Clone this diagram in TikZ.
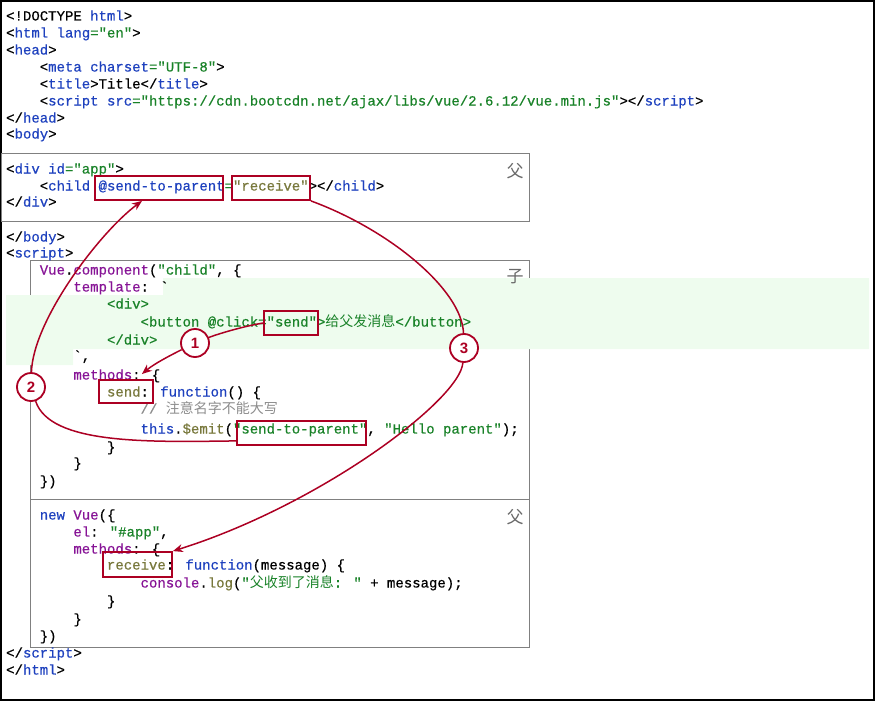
\documentclass[tikz,border=0pt]{standalone}
\usepackage{fontspec}
\newfontfamily\codefont{Liberation Mono}[FakeBold=0.5]
\newfontfamily\cjk{Noto Sans CJK SC}
\newfontfamily\numfont{Liberation Sans}
\usetikzlibrary{arrows.meta}

\definecolor{tagblue}{RGB}{30,65,190}
\definecolor{strgreen}{RGB}{25,130,40}
\definecolor{proppurple}{RGB}{135,20,150}
\definecolor{funolive}{RGB}{120,120,60}
\definecolor{cmtgray}{RGB}{140,140,140}
\definecolor{framegray}{RGB}{128,128,128}
\definecolor{labelgray}{RGB}{105,105,105}
\definecolor{tplgreen}{RGB}{238,252,238}
\definecolor{annored}{RGB}{172,0,35}

\newcommand\ctag[1]{\textcolor{tagblue}{#1}}
\newcommand\cstr[1]{\textcolor{strgreen}{#1}}
\newcommand\cprop[1]{\textcolor{proppurple}{#1}}
\newcommand\cfun[1]{\textcolor{funolive}{#1}}
\newcommand\ccmt[1]{\textcolor{cmtgray}{#1}}

\tikzset{
  code/.style={anchor=base west, inner sep=0pt, font=\codefont\fontsize{14}{17}\selectfont},
  part/.style={draw=framegray, line width=0.9pt},
  side/.style={text=labelgray, inner sep=0pt, font=\cjk\fontsize{17}{17}\selectfont},
  hlbox/.style={draw=annored, line width=1.8pt, inner sep=0pt},
  num/.style={circle, draw=annored, fill=white, line width=1.8pt, minimum size=28pt,
    inner sep=0pt, text=annored, font=\numfont\bfseries\fontsize{15}{15}\selectfont},
  flow/.style={draw=annored, line width=1.5pt, -{Stealth[length=10pt,width=8pt]}}
}

\begin{document}
\begin{tikzpicture}[x=1pt, y=-1pt]
    \useasboundingbox (0,0) rectangle (875,701);
    \draw[line width=1.2pt] (1,1) rectangle (874,700);

    % parts of the page
    \draw[part] (1,153) rectangle (529,221);
    \draw[part] (30,260) rectangle (529,499);
    \draw[part] (30,499) rectangle (529,647);
    \fill[tplgreen] (163,278) -- (869,278) -- (869,349) -- (73,349) -- (73,365)
        -- (6,365) -- (6,295) -- (163,295) -- cycle;

    \node[side] (fa1) at (515,171) {父};
    \node[side] (zi)  at (515,277) {子};
    \node[side] (fa2) at (515,517) {父};

    % html
    \node[code] (ln1)  at (6,20.5)    {<!DOCTYPE \ctag{html}>};
    \node[code] (ln2)  at (6,37.5)    {<\ctag{html} \ctag{lang}\cstr{="en"}>};
    \node[code] (ln3)  at (6,54.5)    {<\ctag{head}>};
    \node[code] (ln4)  at (39.6,71.5) {<\ctag{meta} \ctag{charset}\cstr{="UTF-8"}>};
    \node[code] (ln5)  at (39.6,88.5) {<\ctag{title}>Title</\ctag{title}>};
    \node[code] (ln6)  at (39.6,105.5) {<\ctag{script} \ctag{src}\cstr{="https://cdn.bootcdn.net/ajax/libs/vue/2.6.12/vue.min.js"}></\ctag{script}>};
    \node[code] (ln7)  at (6,122.5)   {</\ctag{head}>};
    \node[code] (ln8)  at (6,138.5)   {<\ctag{body}>};
    \node[code] (ln9)  at (6,173.5)   {<\ctag{div} \ctag{id}\cstr{="app"}>};
    \node[code] (ln10) at (39.6,190.5) {<\ctag{child} \ctag{@send-to-parent}\cstr{=}\cfun{"receive"}></\ctag{child}>};
    \node[code] (ln11) at (6,206.5)   {</\ctag{div}>};
    \node[code] (ln12) at (6,241.5)   {</\ctag{body}>};
    \node[code] (ln13) at (6,257.5)   {<\ctag{script}>};

    % child component
    \node[code] (ln14) at (39.6,274.5) {\cprop{Vue}.\cprop{component}(\cstr{"child"}, \{};
    \node[code] (ln15) at (73.2,291.5) {\cprop{template}: \textasciigrave};
    \node[code] (ln16) at (106.8,308.5) {\cstr{<div>}};
    \node[code] (ln17) at (140.4,326.5) {\cstr{<button @click="send">{\cjk 给父发消息}</button>}};
    \node[code] (ln18) at (106.8,344.5) {\cstr{</div>}};
    \node[code] (ln19) at (73.2,360.5) {\textasciigrave,};
    \node[code] (ln20) at (73.2,379.5) {\cprop{methods}: \{};
    \node[code] (ln21) at (106.8,396.5) {\cfun{send}: \ctag{function}() \{};
    \node[code] (ln22) at (140.4,413.5) {\ccmt{// {\cjk 注意名字不能大写}}};
    \node[code] (ln23) at (140.4,433.5) {\ctag{this}.\cfun{\$emit}(\cstr{"send-to-parent"}, \cstr{"Hello parent"});};
    \node[code] (ln24) at (106.8,451.5) {\}};
    \node[code] (ln25) at (73.2,467.5) {\}};
    \node[code] (ln26) at (39.6,485.5) {\})};

    % root instance
    \node[code] (ln27) at (39.6,519.5) {\ctag{new} \cprop{Vue}(\{};
    \node[code] (ln28) at (73.2,536.5) {\cprop{el}: \cstr{"\#app"},};
    \node[code] (ln29) at (73.2,553.5) {\cprop{methods}: \{};
    \node[code] (ln30) at (106.8,569.5) {\cfun{receive}: \ctag{function}(message) \{};
    \node[code] (ln31) at (140.4,587.5) {\cprop{console}.\cfun{log}(\cstr{"{\cjk 父收到了消息}: "} + message);};
    \node[code] (ln32) at (106.8,605.5) {\}};
    \node[code] (ln33) at (73.2,623.5) {\}};
    \node[code] (ln34) at (39.6,640.5) {\})};
    \node[code] (ln35) at (6,657.5)   {</\ctag{script}>};
    \node[code] (ln36) at (6,674.5)   {</\ctag{html}>};

    % marked names
    \node[hlbox, minimum width=128pt, minimum height=24pt] (sendpar)  at (159,188)   {};
    \node[hlbox, minimum width=78pt,  minimum height=24pt] (recvattr) at (271,188)   {};
    \node[hlbox, minimum width=54pt,  minimum height=24pt] (sendbtn)  at (291,323)   {};
    \node[hlbox, minimum width=54pt,  minimum height=23pt] (sendfn)   at (126,391.5) {};
    \node[hlbox, minimum width=129pt, minimum height=24pt] (emitbox)  at (301.5,433) {};
    \node[hlbox, minimum width=69pt,  minimum height=25pt] (recvfn)   at (137.5,564.5) {};

    \node[num] (c1) at (195,343) {1};
    \node[num] (c2) at (31,387)  {2};
    \node[num] (c3) at (464,348) {3};

    \draw[flow] (sendbtn.west) .. controls (240,327) and (215,335) .. (c1)
        .. controls (175,353) and (155,363) .. ([xshift=-12pt,yshift=5pt]sendfn.north east);
    \draw[flow] ([yshift=5pt]emitbox.south west) .. controls (150,442) and (50,445) .. (c2)
        .. controls (33,320) and (100,232) .. ([xshift=-17pt]sendpar.south);
    \draw[flow] (recvattr.south east) .. controls (390,230) and (462,290) .. (c3)
        .. controls (460,400) and (320,505) .. (recvfn.north east);

\end{tikzpicture}
\end{document}
